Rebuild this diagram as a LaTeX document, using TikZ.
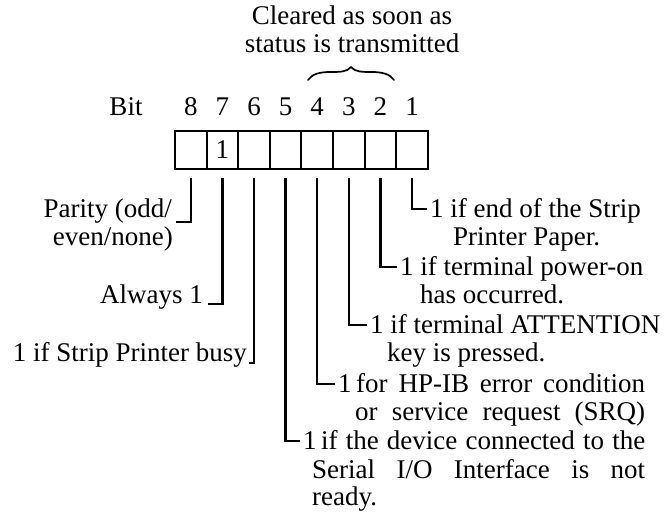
\documentclass[tikz,border=0pt]{standalone}
\usepackage{fontspec}
\setmainfont{Liberation Serif}
\usetikzlibrary{calc}
\begin{document}
\begin{tikzpicture}[x=1pt,y=-1pt,
  txt/.style={font=\fontsize{27}{29}\selectfont, inner sep=0pt},
  cell/.style={draw, line width=2pt, minimum width=31.6pt, minimum height=38pt, inner sep=0pt},
  lead/.style={line width=2.5pt},
  brc/.style={line width=1.7pt, line cap=round}
]
\useasboundingbox (0,0) rectangle (670,512);
% register
\foreach \b [count=\i] in {8,...,1} {
  \node[cell] (c\b) at ({175+31.6*(\i-0.5)},150) {};
  \node[txt, anchor=base] (n\b) at ({175+31.6*(\i-0.5)},115) {\b};
}
\node[txt] (one) at (c7) {1};
\node[txt, anchor=base] (bit) at (126,115) {Bit};
% top text and brace
\node[txt, anchor=base] (cl1) at (352,24) {Cleared as soon as};
\node[txt, anchor=base] (cl2) at (352,52) {status is transmitted};
\coordinate (bl) at (308,80);
\coordinate (bm1) at (330,72);
\coordinate (btip) at (351,67);
\coordinate (bm2) at (372,72);
\coordinate (br) at (394,80);
\draw[brc] (bl) .. controls (312,74) and (320,72) .. (bm1)
  .. controls (340,72) and (347,72) .. (btip)
  .. controls (355,72) and (362,72) .. (bm2)
  .. controls (382,72) and (390,74) .. (br);
% left labels
\node[txt, anchor=base east] (par1) at (172,217) {Parity (odd/};
\node[txt, anchor=base east] (par2) at (173,245) {even/none)};
\node[txt, anchor=base east] (alw) at (203,303) {Always 1};
\node[txt, anchor=base east] (bus) at (247,361) {1 if Strip Printer busy};
% right labels
\node[txt, anchor=base west] (t1a) at (430,217) {1 if end of the Strip};
\node[txt, anchor=base west] (t1b) at (453,245) {Printer Paper.};
\node[txt, anchor=base west] (t2a) at (400,275) {1 if terminal power-on};
\node[txt, anchor=base west] (t2b) at (420,303) {has occurred.};
\node[txt, anchor=base west] (t3a) at (370,333) {1 if terminal ATTENTION};
\node[txt, anchor=base west] (t3b) at (387,361) {key is pressed.};
\node[txt, anchor=base west] (t4a) at (338,392) {\makebox[307pt][s]{1\,for HP-IB error condition}};
\node[txt, anchor=base west] (t4b) at (355,420) {\makebox[290pt][s]{or service request (SRQ)}};
\node[txt, anchor=base west] (t5a) at (303,449) {\makebox[342pt][s]{1\,if the device connected to the}};
\node[txt, anchor=base west] (t5b) at (312,478) {\makebox[333pt][s]{Serial I/O Interface is not}};
\node[txt, anchor=base west] (t5c) at (312,505) {ready.};
% leaders
\draw[lead] ($(c8.south)+(0,8)$) |- ($(par1.base east)+(4,5)$);
\draw[lead] ($(c7.south)+(0,8)$) |- ($(alw.base east)+(5,1)$);
\draw[lead] ($(c6.south)+(0,8)$) |- ($(bus.base east)+(2,2)$);
\draw[lead] ($(c5.south)+(0,8)$) |- ($(t5a.base west)+(-3,-8)$);
\draw[lead] ($(c4.south)+(0,8)$) |- ($(t4a.base west)+(-3,-8)$);
\draw[lead] ($(c3.south)+(0,8)$) |- ($(t3a.base west)+(-3,-8)$);
\draw[lead] ($(c2.south)+(0,8)$) |- ($(t2a.base west)+(-3,-8)$);
\draw[lead] ($(c1.south)+(0,8)$) |- ($(t1a.base west)+(-3,-8)$);
\end{tikzpicture}
\end{document}
